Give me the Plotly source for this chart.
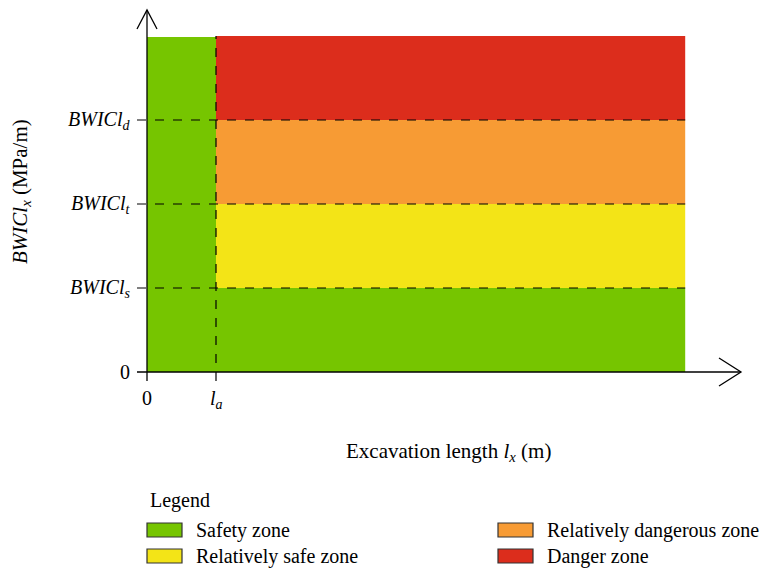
import plotly.graph_objects as go

# ---- data ----
zone_names = ["Safety zone", "Relatively safe zone", "Relatively dangerous zone", "Danger zone"]
zone_colors = ["#76C500", "#F3E417", "#F79B34", "#DC2D1C"]
y_levels = [0, 1, 2, 3, 4]            # 0, BWIC_ls, BWIC_lt, BWIC_ld, top
y_tick_labels = ["0", "<i>BWICl<sub>s</sub></i>", "<i>BWICl<sub>t</sub></i>", "<i>BWICl<sub>d</sub></i>"]
x_la = 1.0
x_end = 7.8
x_tick_vals = [0, x_la]
x_tick_labels = ["0", "<i>l<sub>a</sub></i>"]

FONT = "Liberation Serif"
FS = 20
FT = 21
W, H = 767, 571
# pixel mapping: x px = 147 + 69*x ; y px = 372 - 84*y
ml, mr, mt, mb = 100, 17, 5, 176
xr = [(ml - 147) / 69, (W - mr - 147) / 69]
yr = [(372 - (H - mb)) / 84, (372 - mt) / 84]
px = 1 / 69
py = 1 / 84
PW, PH = W - ml - mr, H - mt - mb


def pxx(p):
    return (p - ml) / PW


def pyy(p):
    return 1 - (p - mt) / PH


fig = go.Figure()


def rect(x0, x1, y0, y1, color, name):
    fig.add_trace(go.Scatter(x=[x0, x1, x1, x0, x0], y=[y0, y0, y1, y1, y0], fill="toself",
                             fillcolor=color, mode="lines", line=dict(width=0, color=color),
                             name=name, showlegend=False, hoverinfo="skip"))


# left safety column
rect(0, x_la, y_levels[0], y_levels[4] - 1 * py, zone_colors[0], zone_names[0])
# right zones
for i in range(4):
    rect(x_la, x_end, y_levels[i], y_levels[i + 1], zone_colors[i], zone_names[i])

shapes = []
line_k = dict(color="black", width=1.3)
# y axis
shapes.append(dict(type="line", xref="x", yref="y", x0=0, x1=0, y0=-9 * py, y1=(372 - 10) * py, line=line_k))
# x axis
shapes.append(dict(type="line", xref="x", yref="y", x0=-10 * px, x1=(741 - 147) * px, y0=0, y1=0, line=line_k))
# arrow heads (open V)
ty = (372 - 10) * py
shapes.append(dict(type="path", xref="x", yref="y",
                   path=f"M {-10*px},{ty-19*py} L 0,{ty} L {10*px},{ty-19*py}", line=line_k))
tx = (741 - 147) * px
shapes.append(dict(type="path", xref="x", yref="y",
                   path=f"M {tx-22*px},{14*py} L {tx},0 L {tx-22*px},{-14*py}", line=line_k))
# y ticks + dashed threshold lines
for yv in y_levels[1:4]:
    shapes.append(dict(type="line", xref="x", yref="y", x0=-10 * px, x1=x_end, y0=yv, y1=yv,
                       line=dict(color="black", width=1.2, dash="dash")))
# vertical dashed at la
shapes.append(dict(type="line", xref="x", yref="y", x0=x_la, x1=x_la, y0=-9 * py, y1=y_levels[4],
                   line=dict(color="black", width=1.2, dash="dash")))

annotations = []
for yv, lab in zip(y_levels[:4], y_tick_labels):
    annotations.append(dict(x=-15 * px, y=yv, xref="x", yref="y", text=lab, showarrow=False,
                            xanchor="right", yanchor="middle", font=dict(family=FONT, size=FS, color="black")))
for xv, lab in zip(x_tick_vals, x_tick_labels):
    annotations.append(dict(x=xv, y=-13 * py, xref="x", yref="y", text=lab, showarrow=False,
                            xanchor="center", yanchor="top", font=dict(family=FONT, size=FS, color="black")))
# axis titles
annotations.append(dict(x=pxx(448), y=pyy(452), xref="paper", yref="paper",
                        text="Excavation length <i>l<sub>x</sub></i> (m)", showarrow=False,
                        xanchor="center", yanchor="middle", font=dict(family=FONT, size=FT, color="black")))
annotations.append(dict(x=pxx(21), y=pyy(192), xref="paper", yref="paper", textangle=-90,
                        text="<i>BWICl<sub>x</sub></i> (MPa/m)", showarrow=False,
                        xanchor="center", yanchor="middle", font=dict(family=FONT, size=FT, color="black")))

# legend (custom)
annotations.append(dict(x=pxx(148), y=pyy(500), xref="paper", yref="paper", text="Legend", showarrow=False,
                        xanchor="left", yanchor="middle", font=dict(family=FONT, size=FS, color="black")))
legend_pos = [(147, 530), (147, 556), (498, 530), (498, 556)]
for name, col, (lx, ly) in zip(zone_names, zone_colors, legend_pos):
    shapes.append(dict(type="rect", xref="paper", yref="paper", x0=pxx(lx), x1=pxx(lx + 35),
                       y0=pyy(ly + 7), y1=pyy(ly - 7), fillcolor=col,
                       line=dict(color="#333333", width=1.2)))
    annotations.append(dict(x=pxx(lx + 47), y=pyy(ly), xref="paper", yref="paper", text=name,
                            showarrow=False, xanchor="left", yanchor="middle",
                            font=dict(family=FONT, size=FS, color="black")))

fig.update_layout(
    width=W, height=H, margin=dict(l=ml, r=mr, t=mt, b=mb),
    paper_bgcolor="white", plot_bgcolor="white",
    xaxis=dict(range=xr, visible=False, fixedrange=True),
    yaxis=dict(range=yr, visible=False, fixedrange=True),
    shapes=shapes, annotations=annotations, showlegend=False,
)
fig.write_html("out.html")
